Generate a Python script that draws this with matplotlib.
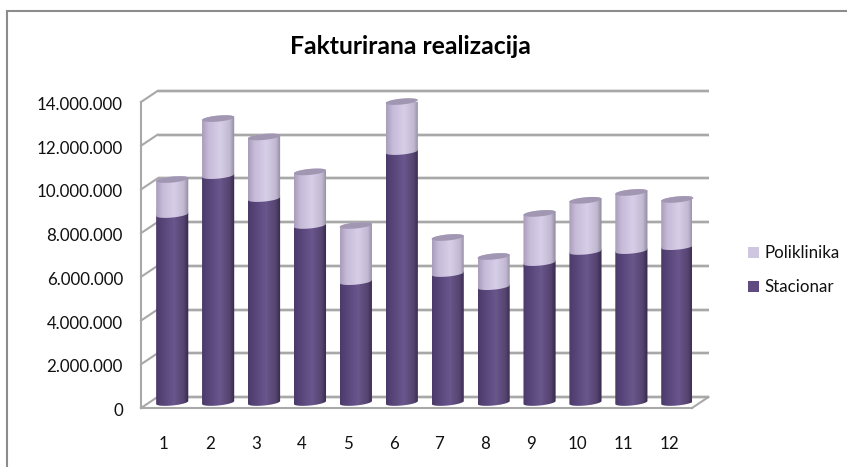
"""Stacked cylinder chart: Fakturirana realizacija."""

import matplotlib

matplotlib.use("Agg")
import matplotlib.pyplot as plt
import numpy as np
from matplotlib.colors import LinearSegmentedColormap
from matplotlib.lines import Line2D
from matplotlib.patches import PathPatch, Polygon, Rectangle
from matplotlib.path import Path
from matplotlib.transforms import ScaledTranslation

plt.rcParams["font.family"] = ["Lato", "DejaVu Sans"]

months = list(range(1, 13))
stacionar = [8.60, 10.38, 9.33, 8.10, 5.53, 11.48, 5.90, 5.30, 6.40, 6.91, 6.95, 7.13]
poliklinika = [1.60, 2.61, 2.82, 2.45, 2.57, 2.29, 1.65, 1.38, 2.25, 2.34, 2.66, 2.16]
y_ticks = [0, 2, 4, 6, 8, 10, 12, 14]

W, H, DPI = 847, 467, 100
LEFT, RIGHT, TOP, BOTTOM = 141, 692, 102, 408
DEPTH_X, DEPTH_Y = 16.5, 11

fig = plt.figure(figsize=(W / DPI, H / DPI), dpi=DPI)
ax = fig.add_axes(
    [LEFT / W, 1 - BOTTOM / H, (RIGHT - LEFT) / W, (BOTTOM - TOP) / H]
)
ax.set_xlim(0.5, 12.5)
ax.set_ylim(0, 14)
for s in ax.spines.values():
    s.set_visible(False)
ax.patch.set_visible(False)
ax.set_xticks(months)
ax.set_yticks(y_ticks)
ax.set_yticklabels(
    ["0" if t == 0 else f"{t}.000.000" for t in y_ticks], fontsize=12.2, color="#111111"
)
ax.tick_params(axis="y", length=0, pad=13)
ax.tick_params(axis="x", length=0, pad=20, labelsize=12.2, labelcolor="#111111")
# labels sit a little under their gridline
nudge = ScaledTranslation(0, -1.5 / DPI, fig.dpi_scale_trans)
for lab in ax.get_yticklabels():
    lab.set_transform(lab.get_transform() + nudge)

back = ax.transData + ScaledTranslation(DEPTH_X / DPI, DEPTH_Y / DPI, fig.dpi_scale_trans)
mid = ax.transData + ScaledTranslation(
    DEPTH_X / 2 / DPI, DEPTH_Y / 2 / DPI, fig.dpi_scale_trans
)

GRID = "#A8A8A8"
GRID_W = 1.5

# walls and floor
for t in y_ticks:
    ax.plot([0.5, 12.5], [t, t], color="#DEDEDE", lw=2.6, transform=back, clip_on=False,
            zorder=1, solid_capstyle="butt")
    ax.plot([0.5, 12.5], [t, t], color=GRID, lw=GRID_W, transform=back, clip_on=False,
            zorder=1.1, solid_capstyle="butt")
    # short connector from the back wall to the front edge
    x0, y0 = ax.transData.transform((0.5, t))
    x1, y1 = back.transform((0.5, t))
    ax.add_line(Line2D([x0, x1], [y0, y1], color=GRID, lw=GRID_W, transform=None,
                       clip_on=False, zorder=1.1))
ax.plot([0.5, 0.5], [0, 14], color=GRID, lw=GRID_W, clip_on=False, zorder=1.1)
ax.plot([0.5, 12.5], [0, 0], color=GRID, lw=GRID_W, clip_on=False, zorder=1.1)
x0, y0 = ax.transData.transform((12.5, 0))
x1, y1 = back.transform((12.5, 0))
ax.add_line(Line2D([x0, x1], [y0, y1], color=GRID, lw=GRID_W, transform=None,
                   clip_on=False, zorder=1.1))

# cylinder shading
cmap_s = LinearSegmentedColormap.from_list(
    "s", [(0, "#4A3A68"), (0.2, "#57457A"), (0.55, "#6A568C"), (0.85, "#55436F"), (1, "#33284A")]
)
cmap_p = LinearSegmentedColormap.from_list(
    "p", [(0, "#A99DBB"), (0.2, "#C6BBD8"), (0.55, "#D7CEE8"), (0.85, "#C2B8D2"), (1, "#8F8A9C")]
)
grad = np.linspace(0, 1, 64).reshape(1, -1)

BAR_W = 0.70
RY = 3.0 * 14 / (BOTTOM - TOP)
TILT = 1.5 * 14 / (BOTTOM - TOP)


def ring(xc, v, t):
    """Points on the tilted ellipse at value v, for angles t."""
    c = np.cos(t)
    return np.column_stack([xc + BAR_W / 2 * c, v + TILT * c + RY * np.sin(t)])


def cylinder(xc, lo, hi, cmap, z):
    """Shaded cylinder body between lo and hi."""
    low = ring(xc, lo, np.linspace(np.pi, 2 * np.pi, 40))
    high = ring(xc, hi, np.linspace(0, np.pi, 40))
    verts = np.vstack([low, high, low[:1]])
    patch = PathPatch(Path(verts), transform=mid, fc="none", ec="none", clip_on=False, zorder=z)
    ax.add_patch(patch)
    im = ax.imshow(grad, cmap=cmap, aspect="auto", transform=mid, interpolation="bilinear",
                   extent=(xc - BAR_W / 2, xc + BAR_W / 2, lo - 1, hi + 1), zorder=z)
    im.set_clip_path(patch)


for m, s, p in zip(months, stacionar, poliklinika):
    total = s + p
    z = 3 + m * 0.01
    cylinder(m, 0, s, cmap_s, z)
    cylinder(m, s, total, cmap_p, z + 0.001)
    ax.add_patch(Polygon(ring(m, total, np.linspace(0, 2 * np.pi, 60)), closed=True, fc="#A297B2",
                         ec="none", transform=mid, clip_on=False, zorder=z + 0.002))
ax.set_xlim(0.5, 12.5)
ax.set_ylim(0, 14)

fig.text(410 / W, 1 - 47 / H, "Fakturirana realizacija", ha="center", va="center",
         fontsize=17.8, fontweight="bold", color="#000000")

# legend
for y_px, color, label in [(252.5, "#CFC6DF", "Poliklinika"), (286.5, "#5F4B7F", "Stacionar")]:
    fig.add_artist(Rectangle((748 / W, 1 - (y_px + 5.5) / H), 11 / W, 11 / H, fc=color, ec="none",
                             transform=fig.transFigure))
    fig.text(764 / W, 1 - y_px / H, label, ha="left", va="center", fontsize=12.2, color="#111111")

# chart frame
fig.add_artist(Line2D([7 / W, 7 / W], [0, 1 - 11 / H], color="#8C8C8C", lw=1.5,
                      transform=fig.transFigure))
fig.add_artist(Line2D([7 / W, 1], [1 - 11 / H, 1 - 11 / H], color="#8C8C8C", lw=1.5,
                      transform=fig.transFigure))

fig.savefig("out.png", dpi=DPI)
